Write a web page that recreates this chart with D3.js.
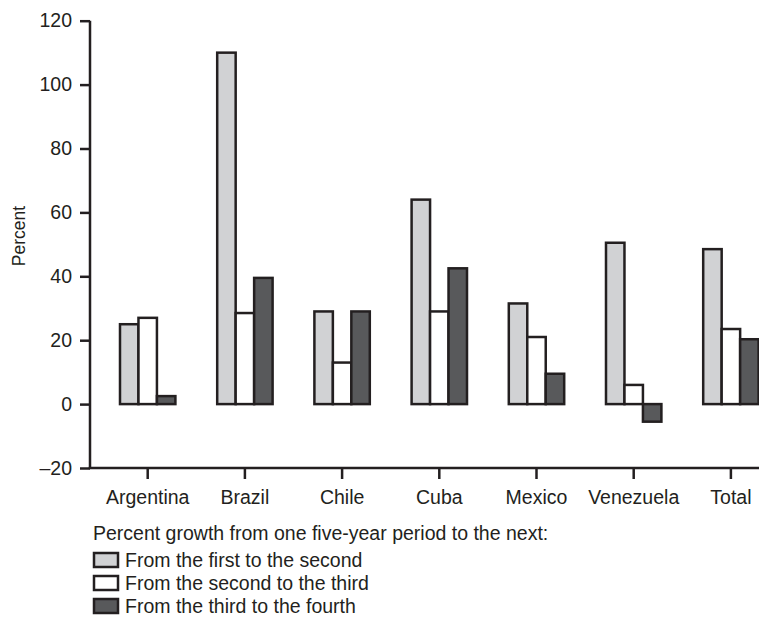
<!DOCTYPE html>
<html>
<head>
<meta charset="utf-8">
<script src="https://cdn.jsdelivr.net/npm/d3@7"></script>
<style>
  html, body { margin: 0; padding: 0; background: #fff; }
  text { font-family: "Liberation Sans", Arial, Helvetica, sans-serif; fill: #231f20; }
</style>
</head>
<body>
<svg id="chart" width="759" height="618"></svg>
<script>
const categories = ["Argentina", "Brazil", "Chile", "Cuba", "Mexico", "Venezuela", "Total"];
const firstToSecond = [25, 110, 29, 64, 31.5, 50.5, 48.5];
const secondToThird = [27, 28.5, 13, 29, 21, 6, 23.5];
const thirdToFourth = [2.5, 39.5, 29, 42.5, 9.5, -5.5, 20.3];
const seriesNames = ["From the first to the second", "From the second to the third", "From the third to the fourth"];
const seriesColors = ["#d1d2d4", "#ffffff", "#58595b"];
const yTicks = [-20, 0, 20, 40, 60, 80, 100, 120];
const yTickLabels = ["\u201320", "0", "20", "40", "60", "80", "100", "120"];
const yLabel = "Percent";
const legendTitle = "Percent growth from one five-year period to the next:";

const series = [firstToSecond, secondToThird, thirdToFourth];
const ink = "#231f20";
const svg = d3.select("#chart");

const x = d3.scaleBand().domain(categories).range([99.1, 779.5]).paddingInner(0.43).paddingOuter(0.215);
const xs = d3.scaleBand().domain(d3.range(series.length)).range([0, x.bandwidth()]);
const y = d3.scaleLinear().domain([-20, 120]).range([468, 20.7]);

// bars
series.forEach((vals, si) => {
  svg.append("g").selectAll("rect").data(vals).join("rect")
    .attr("x", (d, i) => x(categories[i]) + xs(si))
    .attr("y", d => y(Math.max(0, d)))
    .attr("width", xs.bandwidth())
    .attr("height", d => Math.abs(y(d) - y(0)))
    .attr("fill", seriesColors[si])
    .attr("stroke", ink)
    .attr("stroke-width", 2.5);
});

// y axis
const yAxis = svg.append("g").attr("transform", "translate(90,0)")
  .call(d3.axisLeft(y).tickValues(yTicks).tickSize(10).tickPadding(8)
    .tickFormat((d, i) => yTickLabels[i]));
yAxis.select(".domain").attr("stroke", ink).attr("stroke-width", 2.5).attr("d", `M0,${y(120)}V${y(-20)}`);
yAxis.selectAll(".tick line").attr("stroke", ink).attr("stroke-width", 2.5);
yAxis.selectAll(".tick text").style("font-size", "19.5px").attr("fill", ink);

// x axis
const xAxis = svg.append("g").attr("transform", `translate(0,${y(-20)})`)
  .call(d3.axisBottom(x).tickSize(11).tickSizeOuter(0).tickPadding(11));
xAxis.select(".domain").remove();
xAxis.selectAll(".tick line").attr("stroke", ink).attr("stroke-width", 2.5);
xAxis.selectAll(".tick text").style("font-size", "19.5px").attr("fill", ink);
svg.append("line").attr("x1", 88.75).attr("x2", 759).attr("y1", y(-20)).attr("y2", y(-20))
  .attr("stroke", ink).attr("stroke-width", 2.5);

// y label
svg.append("text").attr("transform", "translate(25,236) rotate(-90)")
  .attr("text-anchor", "middle").style("font-size", "17.5px").text(yLabel);

// legend
svg.append("text").attr("x", 93).attr("y", 540).style("font-size", "19.5px").text(legendTitle);
const lg = svg.append("g").selectAll("g").data(seriesNames).join("g")
  .attr("transform", (d, i) => `translate(93,${552 + i * 23})`);
lg.append("rect").attr("x", 1).attr("y", 1).attr("width", 24).attr("height", 14)
  .attr("fill", (d, i) => seriesColors[i]).attr("stroke", ink).attr("stroke-width", 2.5);
lg.append("text").attr("x", 32).attr("y", 15).style("font-size", "19.5px").text(d => d);
</script>
</body>
</html>
